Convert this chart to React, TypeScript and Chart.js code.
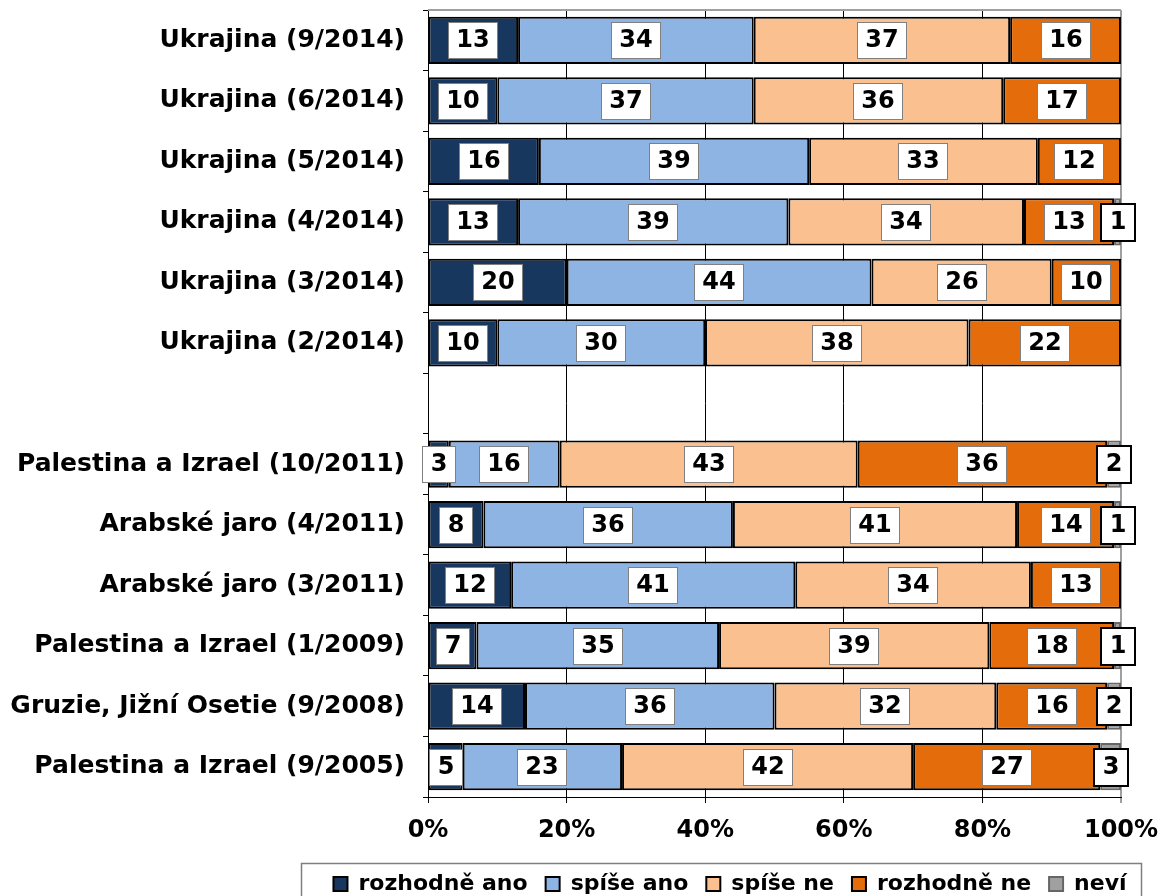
import React, { useEffect, useRef } from "react";
import { Chart, registerables } from "chart.js";

Chart.register(...registerables);

const categories = [
  "Ukrajina (9/2014)",
  "Ukrajina (6/2014)",
  "Ukrajina (5/2014)",
  "Ukrajina (4/2014)",
  "Ukrajina (3/2014)",
  "Ukrajina (2/2014)",
  "",
  "Palestina a Izrael (10/2011)",
  "Arabské jaro (4/2011)",
  "Arabské jaro (3/2011)",
  "Palestina a Izrael (1/2009)",
  "Gruzie, Jižní Osetie (9/2008)",
  "Palestina a Izrael (9/2005)",
];

const seriesNames = ["rozhodně ano", "spíše ano", "spíše ne", "rozhodně ne", "neví"];

const rozhodneAno = [13, 10, 16, 13, 20, 10, null, 3, 8, 12, 7, 14, 5];
const spiseAno = [34, 37, 39, 39, 44, 30, null, 16, 36, 41, 35, 36, 23];
const spiseNe = [37, 36, 33, 34, 26, 38, null, 43, 41, 34, 39, 32, 42];
const rozhodneNe = [16, 17, 12, 13, 10, 22, null, 36, 14, 13, 18, 16, 27];
const nevi = [0, 0, 0, 1, 0, 0, null, 2, 1, 0, 1, 2, 3];

const xTickValues = [0, 20, 40, 60, 80, 100];

const FONT = '"DejaVu Sans", Verdana, sans-serif';
const LEGEND_CENTER = 730;

const boxLabelsPlugin = {
  id: "boxLabels",
  afterDatasetsDraw(chart: any) {
    const ctx = chart.ctx;
    ctx.save();
    ctx.font = `bold 24px ${FONT}`;
    ctx.textAlign = "center";
    ctx.textBaseline = "middle";
    chart.data.datasets.forEach((ds: any, di: number) => {
      const meta = chart.getDatasetMeta(di);
      meta.data.forEach((el: any, i: number) => {
        const v = ds.data[i];
        if (!v) return;
        const { x, y, base } = el.getProps(["x", "y", "base"], true);
        const cx = Math.round((x + base) / 2);
        const cy = Math.round(y);
        const text = String(v);
        const w = Math.round(ctx.measureText(text).width + 17);
        const h = 37;
        const left = Math.round(cx - w / 2);
        const top = Math.round(cy - h / 2);
        ctx.fillStyle = "#ffffff";
        ctx.fillRect(left, top, w, h);
        if (di === 4) {
          ctx.lineWidth = 2;
          ctx.strokeStyle = "#000000";
          ctx.strokeRect(left, top, w, h);
        } else {
          ctx.lineWidth = 1;
          ctx.strokeStyle = "#808080";
          ctx.strokeRect(left + 0.5, top + 0.5, w - 1, h - 1);
        }
        ctx.fillStyle = "#000000";
        ctx.fillText(text, cx, cy + 1);
      });
    });
    ctx.restore();
  },
};

const framePlugin = {
  id: "frames",
  afterLayout(chart: any) {
    const legend = chart.legend;
    if (!legend) return;
    const dx = LEGEND_CENTER - (legend.left + legend.right) / 2;
    legend.left += dx;
    legend.right += dx;
  },
  beforeDatasetsDraw(chart: any) {
    const { ctx, chartArea } = chart;
    ctx.save();
    ctx.strokeStyle = "#a0a0a0";
    ctx.lineWidth = 2;
    ctx.beginPath();
    ctx.moveTo(chartArea.left, chartArea.top);
    ctx.lineTo(chartArea.right, chartArea.top);
    ctx.stroke();
    ctx.restore();
  },
  afterDraw(chart: any) {
    const legend = chart.legend;
    if (!legend || !legend.legendHitBoxes || !legend.legendHitBoxes.length) return;
    const hb = legend.legendHitBoxes;
    const first = hb[0];
    const last = hb[hb.length - 1];
    const ctx = chart.ctx;
    const left = Math.round(first.left - 32) + 0.5;
    const right = Math.round(last.left + last.width + 14) + 0.5;
    const top = Math.round(legend.top + 8) + 0.5;
    const bottom = chart.height + 10;
    ctx.save();
    ctx.strokeStyle = "#7f7f7f";
    ctx.lineWidth = 1.5;
    ctx.beginPath();
    ctx.moveTo(left, bottom);
    ctx.lineTo(left, top);
    ctx.lineTo(right, top);
    ctx.lineTo(right, bottom);
    ctx.stroke();
    ctx.restore();
  },
};

export default function App() {
  const canvasRef = useRef<HTMLCanvasElement | null>(null);

  useEffect(() => {
    if (!canvasRef.current) return;
    Chart.defaults.font.family = FONT;
    Chart.defaults.color = "#000000";

    const colors = ["#17375E", "#8EB4E3", "#FAC090", "#E46C0A", "#A0A0A0"];
    const borders = ["#000000", "#000000", "#000000", "#000000", "#666666"];
    const values = [rozhodneAno, spiseAno, spiseNe, rozhodneNe, nevi];

    const chart = new Chart(canvasRef.current, {
      type: "bar",
      data: {
        labels: categories,
        datasets: values.map((data, i) => ({
          label: seriesNames[i],
          data: data as any,
          backgroundColor: colors[i],
          borderColor: borders[i],
          borderWidth: 2,
          borderSkipped: false,
          barPercentage: 0.78,
          categoryPercentage: 1,
        })),
      },
      options: {
        indexAxis: "y",
        responsive: false,
        animation: false,
        layout: { padding: { left: 0, right: 43, top: 10, bottom: 0 } },
        plugins: {
          legend: {
            position: "bottom",
            align: "center",
            labels: {
              boxWidth: 14,
              boxHeight: 14,
              padding: 18,
              color: "#000000",
              font: { size: 22, weight: "bold" },
            },
          },
          tooltip: { enabled: false },
          title: { display: false },
        },
        scales: {
          x: {
            stacked: true,
            min: 0,
            max: 100,
            afterBuildTicks: (s: any) => {
              s.ticks = xTickValues.map((v) => ({ value: v }));
            },
            ticks: {
              callback: (v: any) => `${v}%`,
              font: { size: 24, weight: "bold" },
              color: "#000000",
              padding: 13,
              maxRotation: 0,
            },
            grid: {
              color: (c: any) => (c.tick && c.tick.value === 100 ? "#a0a0a0" : "#000000"),
              lineWidth: (c: any) => (c.tick && c.tick.value === 100 ? 2 : 1),
              tickLength: 6,
              drawTicks: true,
            },
            border: { color: "#000000", width: 1 },
            afterFit: (s: any) => {
              s.height = 58;
              s.paddingLeft = 0;
              s.paddingRight = 0;
            },
          },
          y: {
            stacked: true,
            ticks: {
              font: { size: 25, weight: "bold" },
              color: "#000000",
              padding: 18,
              autoSkip: false,
            },
            grid: {
              drawOnChartArea: false,
              drawTicks: true,
              tickLength: 5,
              color: "#000000",
              offset: true,
            },
            border: { color: "#000000", width: 1 },
            afterFit: (s: any) => {
              s.width = 428;
              s.paddingTop = 0;
              s.paddingBottom = 0;
            },
          },
        },
      },
      plugins: [boxLabelsPlugin, framePlugin],
    });

    return () => chart.destroy();
  }, []);

  return (
    <div
      style={{
        position: "fixed",
        left: 0,
        top: 0,
        width: 1164,
        height: 896,
        overflow: "hidden",
        background: "#ffffff",
      }}
    >
      <canvas ref={canvasRef} width={1164} height={905} style={{ display: "block" }} />
    </div>
  );
}
